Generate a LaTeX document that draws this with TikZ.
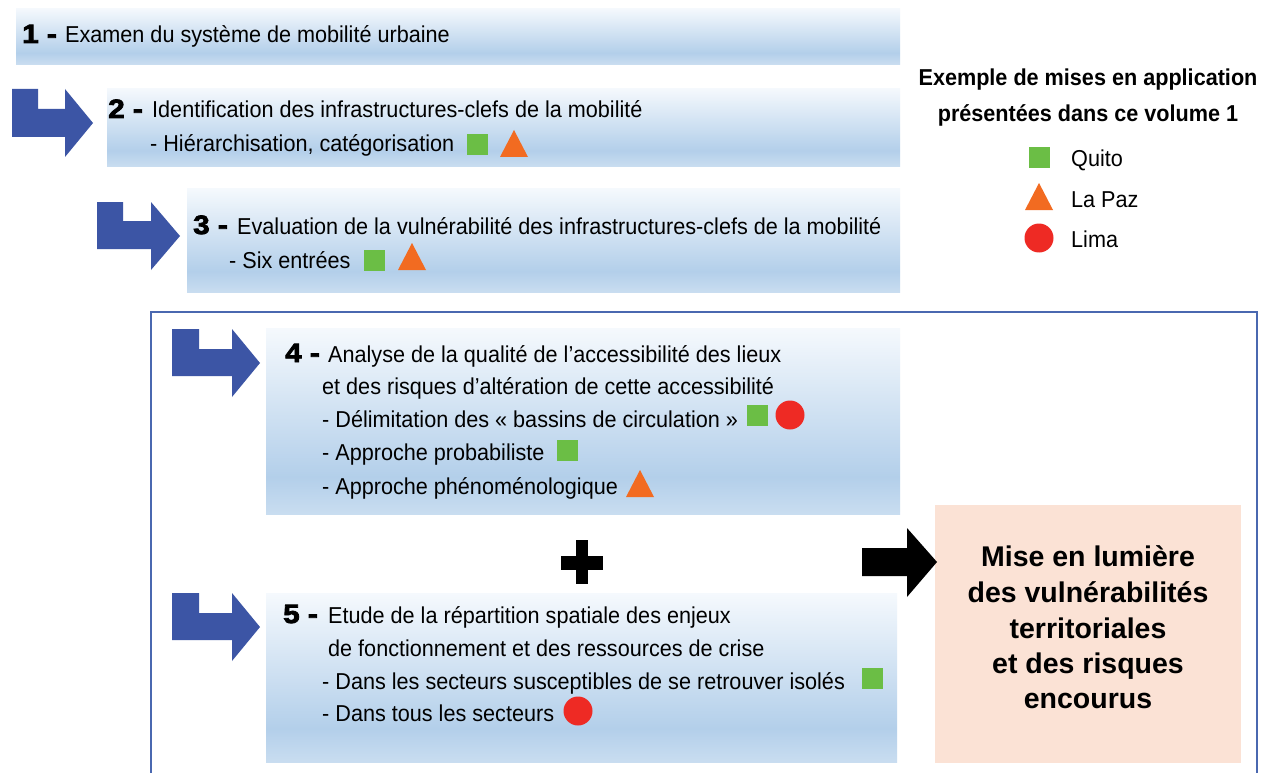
\documentclass[tikz,border=0pt]{standalone}
\usepackage{fontspec}
\setmainfont{Liberation Sans}[FakeStretch=0.94]
\newfontfamily\numfont{Liberation Sans}[UprightFont={* Bold},FakeBold=3,FakeStretch=1.12]
\newfontfamily\resfont{Liberation Sans}
\definecolor{bxtop}{HTML}{F5F9FD}
\definecolor{bxmid}{HTML}{B3CFEA}
\definecolor{bxbot}{HTML}{C9DDF0}
\definecolor{arrblue}{HTML}{3C55A5}
\definecolor{framecol}{HTML}{4A68B0}
\definecolor{resbg}{HTML}{FBE2D5}
\definecolor{qgreen}{HTML}{6BBE45}
\definecolor{lporange}{HTML}{F26B21}
\definecolor{lred}{HTML}{EE2A24}
\pgfdeclareverticalshading{boxshade}{100bp}{color(0bp)=(bxbot); color(25bp)=(bxbot); color(35bp)=(bxmid); color(75bp)=(bxtop); color(100bp)=(bxtop)}
\tikzset{
  stepbox/.style={shading=boxshade, draw=none, anchor=north west, inner sep=0},
  txt/.style={anchor=base west, inner sep=0, font=\fontsize{23}{23}\selectfont},
  num/.style={anchor=base west, inner sep=0, font=\numfont\fontsize{26.5}{26.5}\selectfont},
  legtitle/.style={anchor=base, inner sep=0, font=\bfseries\fontsize{23}{23}\selectfont},
  restxt/.style={anchor=base, inner sep=0, font=\resfont\bfseries\fontsize{28.5}{28.5}\selectfont},
  bentarrow/.style={fill=arrblue, draw=none},
  sq/.style={fill=qgreen, draw=none},
  tri/.style={fill=lporange, draw=none},
  dot/.style={fill=lred, draw=none},
}
\newcommand{\mysq}[2]{\path[sq] (#1,#2) rectangle ++(21,21);}
\newcommand{\mytri}[2]{\path[tri] (#1,#2) -- ++(28,0) -- ++(-14,-27) -- cycle;}
\newcommand{\mydot}[2]{\path[dot] (#1,#2) circle[radius=14.5];}
\begin{document}
\begin{tikzpicture}[x=1pt,y=-1pt]
\useasboundingbox (0,0) rectangle (1261,773);
\fill[white] (0,0) rectangle (1261,773);

% boxes
\node[stepbox, minimum width=884, minimum height=56] (b1) at (16,8) {};
\node[stepbox, minimum width=793, minimum height=78] (b2) at (107,88) {};
\node[stepbox, minimum width=713, minimum height=104] (b3) at (187,188) {};
\node[stepbox, minimum width=634, minimum height=186] (b4) at (266,328) {};
\node[stepbox, minimum width=631, minimum height=169] (b5) at (266,593) {};
\node[fill=resbg, anchor=north west, inner sep=0, minimum width=306, minimum height=258] (res) at (935,505) {};

% frame
\draw[framecol, line width=2] (151,773) -- (151,312) -- (1257,312) -- (1257,773);

% bent arrows
\path[bentarrow] (12,89) -- (38,89) -- (38,109) -- (65,109) -- (65,89) -- (93,123) -- (65,157) -- (65,137) -- (12,137) -- cycle;
\path[bentarrow] (97,202) -- (123,202) -- (123,221) -- (151,221) -- (151,202) -- (180,236) -- (151,270) -- (151,249) -- (97,249) -- cycle;
\path[bentarrow] (172,329) -- (199,329) -- (199,349) -- (232,349) -- (232,329) -- (260,363) -- (232,397) -- (232,376) -- (172,376) -- cycle;
\path[bentarrow] (172,593) -- (199,593) -- (199,613) -- (232,613) -- (232,593) -- (260,627) -- (232,661) -- (232,640) -- (172,640) -- cycle;

% black arrow
\fill[black] (862,548) -- (907,548) -- (907,528) -- (937,562) -- (907,597) -- (907,576) -- (862,576) -- cycle;
% plus
\fill[black] (576,540) rectangle (588,584);
\fill[black] (561,556) rectangle (603,570);

% texts
\node[num] (n1) at (22,43) {1 -};
\node[txt] (t1) at (65,43) {Examen du système de mobilité urbaine};

\node[num] (n2) at (108,118) {2 -};
\node[txt] (t2a) at (152,118) {Identification des infrastructures-clefs de la mobilité};
\node[txt] (t2b) at (150,151) {- Hiérarchisation, catégorisation};

\node[num] (n3) at (193,234) {3 -};
\node[txt] (t3a) at (237,234) {Evaluation de la vulnérabilité des infrastructures-clefs de la mobilité};
\node[txt] (t3b) at (229,268) {- Six entrées};

\node[num] (n4) at (285,362) {4 -};
\node[txt] (t4a) at (328,362) {Analyse de la qualité de l’accessibilité des lieux};
\node[txt] (t4b) at (322,394) {et des risques d’altération de cette accessibilité};
\node[txt] (t4c) at (322,427) {- Délimitation des « bassins de circulation »};
\node[txt] (t4d) at (322,460) {- Approche probabiliste};
\node[txt] (t4e) at (322,494) {- Approche phénoménologique};

\node[num] (n5) at (283,623) {5 -};
\node[txt] (t5a) at (328,623) {Etude de la répartition spatiale des enjeux};
\node[txt] (t5b) at (328,656) {de fonctionnement et des ressources de crise};
\node[txt] (t5c) at (322,689) {- Dans les secteurs susceptibles de se retrouver isolés};
\node[txt] (t5d) at (322,721) {- Dans tous les secteurs};

% legend
\node[legtitle] (lt1) at (1088,86) {Exemple de mises en application};
\node[legtitle] (lt2) at (1088,122) {présentées dans ce volume 1};
\node[txt] (lq) at (1071,167) {Quito};
\node[txt] (ll) at (1071,207) {La Paz};
\node[txt] (lm) at (1071,247) {Lima};

% result
\node[restxt] (r1) at (1088,566) {Mise en lumière};
\node[restxt] (r2) at (1088,602) {des vulnérabilités};
\node[restxt] (r3) at (1088,638) {territoriales};
\node[restxt] (r4) at (1088,673) {et des risques};
\node[restxt] (r5) at (1088,708) {encourus};

% markers
\mysq{467}{134} \mytri{500}{157}
\mysq{364}{250} \mytri{398}{270}
\mysq{747}{405} \mydot{790}{415}
\mysq{557}{440}
\mytri{626}{497}
\mysq{862}{668}
\mydot{578}{711}
\mysq{1029}{147}
\mytri{1025}{210}
\mydot{1039}{238}
\end{tikzpicture}
\end{document}
